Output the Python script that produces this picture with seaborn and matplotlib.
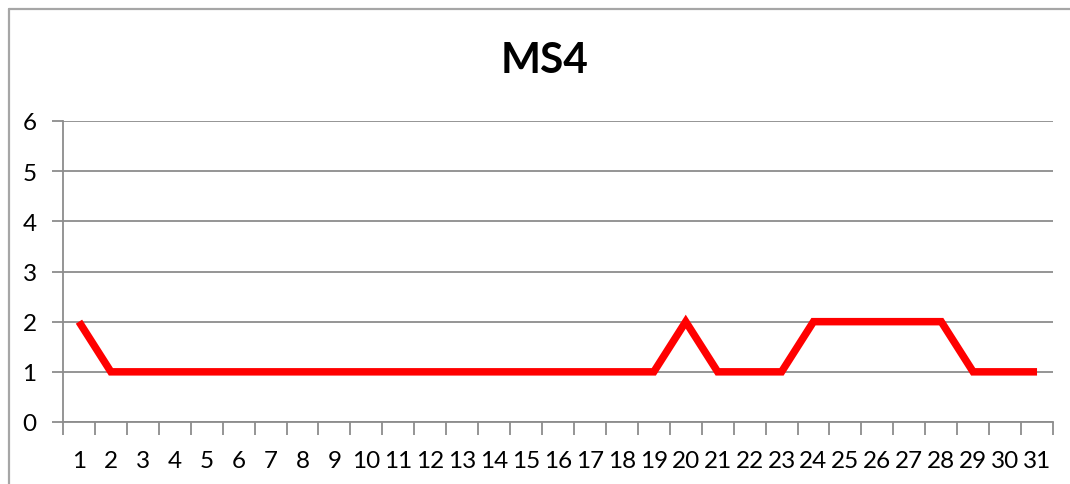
import seaborn as sns
import matplotlib
matplotlib.use("Agg")
import matplotlib.pyplot as plt
from matplotlib.lines import Line2D
from matplotlib.ticker import FixedLocator
import pandas as pd

days = list(range(1, 32))
ms4 = [2, 1, 1, 1, 1, 1, 1, 1, 1, 1, 1, 1, 1, 1, 1, 1, 1, 1, 1, 2,
       1, 1, 1, 2, 2, 2, 2, 2, 1, 1, 1]
y_ticks = [0, 1, 2, 3, 4, 5, 6]
title = "MS4"

sns.set_theme(style="white")
plt.rcParams['font.family'] = ['Lato', 'DejaVu Sans']

df = pd.DataFrame({"pos": range(len(days)), "val": ms4})

fig = plt.figure(figsize=(10.7, 4.85), dpi=100)
W, H = 1070, 485
ax = fig.add_axes([63 / W, (H - 423) / H, (1053 - 63) / W, (423 - 122) / H])

sns.lineplot(data=df, x="pos", y="val", ax=ax, color="#FF0000", linewidth=5.4,
             solid_capstyle="butt", solid_joinstyle="miter")

grid_c = "#8C8C8C"
ax.set_xlim(-0.5, len(days) - 0.5)
ax.set_ylim(0, 6)
ax.set_yticks(y_ticks)
ax.set_yticklabels([str(v) for v in y_ticks])
ax.set_xticks(range(len(days)))
ax.set_xticklabels([str(d) for d in days])
ax.xaxis.set_minor_locator(FixedLocator([i - 0.5 for i in range(len(days) + 1)]))
ax.yaxis.grid(True, color=grid_c, linewidth=1.3)
ax.set_axisbelow(True)
ax.set_xlabel("")
ax.set_ylabel("")

ax.tick_params(axis="x", which="major", length=0, pad=20, labelsize=17.5, labelcolor="black")
ax.tick_params(axis="x", which="minor", length=9, width=1.3, color=grid_c, direction="out", bottom=True)
ax.tick_params(axis="y", which="major", length=8, width=1.3, color=grid_c, direction="out",
               left=True, pad=11, labelsize=17.5, labelcolor="black")

for side in ["top", "right"]:
    ax.spines[side].set_visible(False)
for side in ["left", "bottom"]:
    ax.spines[side].set_color(grid_c)
    ax.spines[side].set_linewidth(1.3)

fig.text(545 / W, 1 - 61 / H, title, ha="center", va="center", fontsize=30.5,
         fontweight="bold", color="black")

# outer chart frame (left and top edges visible)
fig.add_artist(Line2D([8.5 / W, 8.5 / W], [0, 1 - 9.5 / H], transform=fig.transFigure,
                      color="#A6A6A6", linewidth=1.6))
fig.add_artist(Line2D([8.5 / W, 1], [1 - 9.5 / H, 1 - 9.5 / H], transform=fig.transFigure,
                      color="#A6A6A6", linewidth=1.6))

fig.savefig("out.png", dpi=100, facecolor="white")
